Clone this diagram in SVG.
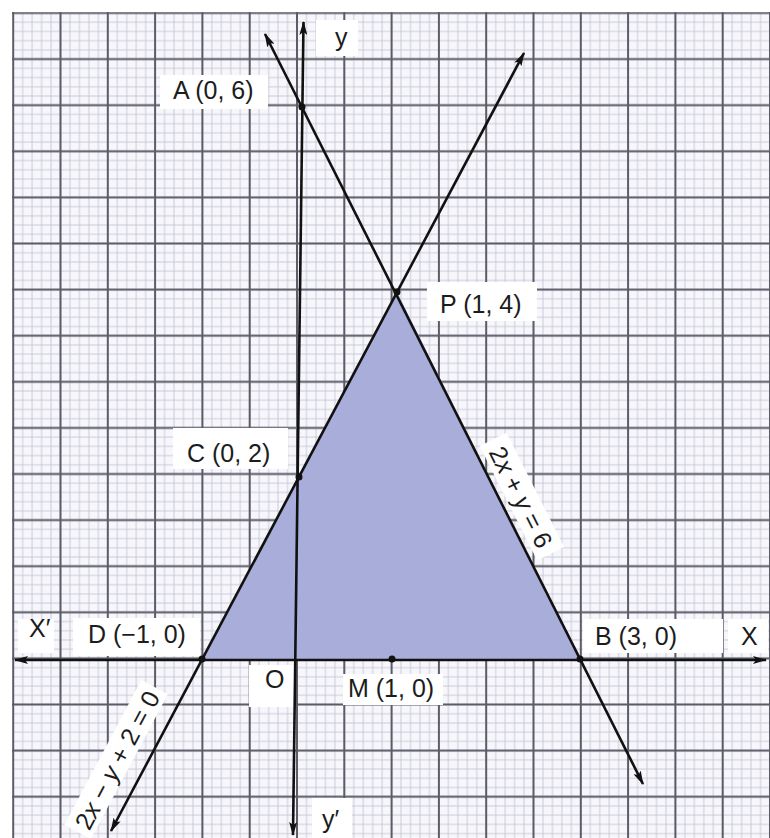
<svg xmlns="http://www.w3.org/2000/svg" width="770" height="838" viewBox="0 0 770 838">
<style>
.lbl{font-family:"Liberation Sans",Arial,sans-serif;font-size:25px;fill:#1c1c1c}
.box{fill:#ffffff}
.ln{stroke:#111;stroke-width:2.6;fill:none}
.dot{fill:#111}
</style>
<defs>
<pattern id="fine" patternUnits="userSpaceOnUse" x="8.47" y="8.39" width="9.46" height="9.22">
<path d="M4.73,0 V9.22 M0,4.61 H9.46" stroke="#c6c6d6" stroke-width="0.9" fill="none"/>
</pattern>
<pattern id="major" patternUnits="userSpaceOnUse" x="-10.45" y="-10.05" width="47.3" height="46.1">
<path d="M23.65,0 V46.1 M0,23.05 H47.3" stroke="#5c5c68" stroke-width="2" fill="none"/>
</pattern>
<marker id="ar" viewBox="0 0 14 8" markerWidth="14" markerHeight="8" refX="13" refY="4" orient="auto-start-reverse" markerUnits="userSpaceOnUse">
<path d="M0,0 L14,4 L0,8 L3,4 z" fill="#111"/>
</marker>
</defs>
<rect width="770" height="838" fill="#ffffff"/>
<g id="grid">
<rect x="13" y="13" width="757" height="825" fill="#f7f7fb"/>
<rect x="13" y="13" width="757" height="825" fill="url(#fine)"/>
<rect x="12" y="12" width="758" height="826" fill="url(#major)"/>
</g>
<g id="region">
<polygon points="202,659 397,292 580,659" fill="#a9add9"/>
</g>
<g id="label-boxes">
<rect class="box" x="160" y="75" width="108" height="34"/>
<rect class="box" x="316" y="20" width="42" height="36"/>
<rect class="box" x="427" y="282" width="110" height="39"/>
<rect class="box" x="173" y="428" width="115" height="41"/>
<rect class="box" x="18" y="619" width="36" height="34"/>
<rect class="box" x="73" y="618" width="127" height="38"/>
<rect class="box" x="249" y="665" width="45" height="42"/>
<rect class="box" x="343" y="674" width="100" height="31"/>
<rect class="box" x="583" y="619" width="140" height="34"/>
<rect class="box" x="728" y="619" width="40" height="34"/>
<rect class="box" x="312" y="798" width="40" height="40"/>
<rect class="box" x="-64" y="-16" width="128" height="30" transform="translate(521,497) rotate(63.3)"/>
<rect class="box" x="-82" y="-16" width="164" height="30" transform="translate(117,760) rotate(-62)"/>
</g>
<g id="connectors">
<line id="x-axis" class="ln" x1="15" y1="660" x2="766" y2="660" marker-start="url(#ar)" marker-end="url(#ar)"/>
<line id="y-axis" class="ln" x1="303.5" y1="22" x2="293" y2="835" marker-start="url(#ar)" marker-end="url(#ar)"/>
<line id="line-AB" class="ln" x1="265" y1="34" x2="643" y2="784" marker-start="url(#ar)" marker-end="url(#ar)"/>
<line id="line-DP" class="ln" x1="524" y1="53" x2="111" y2="831" marker-start="url(#ar)" marker-end="url(#ar)"/>
</g>
<g id="node-A"><circle class="dot" cx="302" cy="107" r="3.5"/><text class="lbl" x="173" y="99">A (0, 6)</text></g>
<g id="node-P"><circle class="dot" cx="397" cy="292" r="3.5"/><text class="lbl" x="440" y="313">P (1, 4)</text></g>
<g id="node-C"><circle class="dot" cx="299" cy="477" r="3.5"/><text class="lbl" x="187" y="462">C (0, 2)</text></g>
<g id="node-D"><circle class="dot" cx="202" cy="659" r="3.5"/><text class="lbl" x="88" y="643">D (−1, 0)</text></g>
<g id="node-B"><circle class="dot" cx="580" cy="659" r="3.5"/><text class="lbl" x="595" y="645">B (3, 0)</text></g>
<g id="node-M"><circle class="dot" cx="392" cy="659" r="3.5"/><text class="lbl" x="348" y="697">M (1, 0)</text></g>
<g id="node-O"><text class="lbl" x="265" y="688">O</text></g>
<g id="axis-labels">
<text class="lbl" x="335" y="46">y</text>
<text class="lbl" x="322" y="828">y′</text>
<text class="lbl" x="29" y="637">X′</text>
<text class="lbl" x="741" y="645">X</text>
</g>
<g id="eq-labels">
<text class="lbl" text-anchor="middle" x="0" y="9" transform="translate(521,497) rotate(63.3)">2<tspan font-style="italic">x</tspan> + <tspan font-style="italic">y</tspan> = 6</text>
<text class="lbl" text-anchor="middle" x="0" y="9" transform="translate(117,760) rotate(-62)">2<tspan font-style="italic">x</tspan> − <tspan font-style="italic">y</tspan> + 2 = 0</text>
</g>
</svg>
